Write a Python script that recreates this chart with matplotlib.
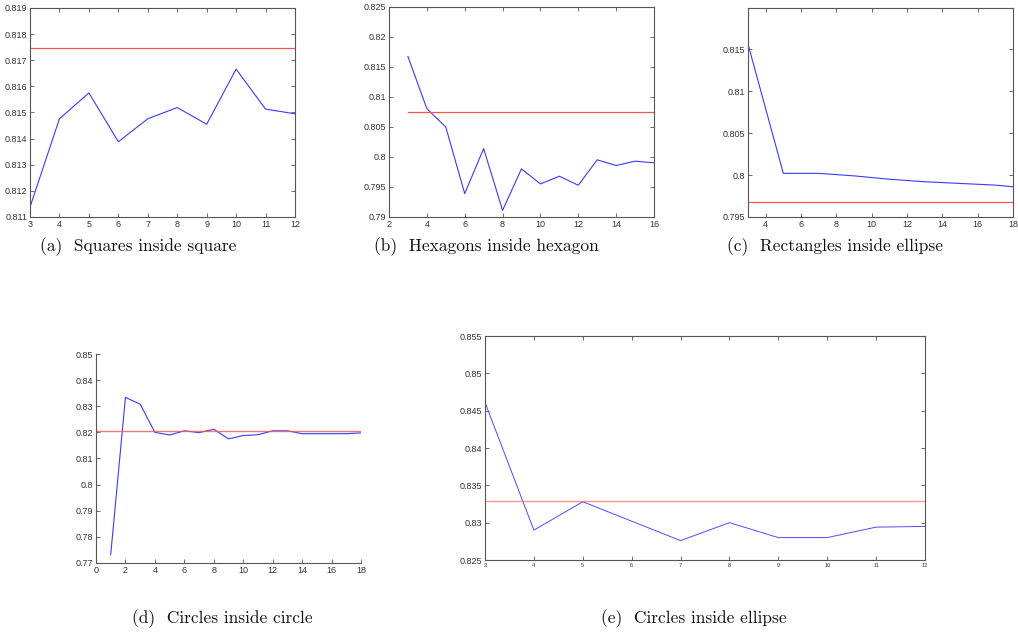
import matplotlib
matplotlib.use("Agg")
import matplotlib.pyplot as plt
from matplotlib.ticker import FuncFormatter, FixedLocator

W, H = 1018, 638

# (a) Squares inside square
a_x = [3, 4, 5, 6, 7, 8, 9, 10, 11, 12]
a_y = [0.81138, 0.81476, 0.81575, 0.81388, 0.81476, 0.81519, 0.81455, 0.81666, 0.81513, 0.81495]
a_ref = 0.81746

# (b) Hexagons inside hexagon
b_x = [3, 4, 5, 6, 7, 8, 9, 10, 11, 12, 13, 14, 15, 16]
b_y = [0.81675, 0.80805, 0.80499, 0.7939, 0.8014, 0.79111, 0.79802, 0.79551, 0.7968, 0.79529,
       0.79953, 0.79858, 0.7993, 0.79903]
b_ref = 0.80755

# (c) Rectangles inside ellipse
c_x = [3, 5, 7, 9, 11, 13, 15, 17, 18]
c_y = [0.8156, 0.8002, 0.8002, 0.7999, 0.7995, 0.7992, 0.7990, 0.7988, 0.7986]
c_ref = 0.79684

# (d) Circles inside circle
d_x = [1, 2, 3, 4, 5, 6, 7, 8, 9, 10, 11, 12, 13, 14, 15, 16, 17, 18]
d_y = [0.7732, 0.8334, 0.8308, 0.8200, 0.8190, 0.8206, 0.8199, 0.8212, 0.8175, 0.8188,
       0.8191, 0.8206, 0.8206, 0.8195, 0.8195, 0.8195, 0.8195, 0.8198]
d_ref = 0.8207

# (e) Circles inside ellipse
e_x = [3, 4, 5, 6, 7, 8, 9, 10, 11, 12]
e_y = [0.8461, 0.8290, 0.8328, 0.8302, 0.8276, 0.8300, 0.8280, 0.8280, 0.8294, 0.8295]
e_ref = 0.83295

captions = ["(a)  Squares inside square", "(b)  Hexagons inside hexagon",
            "(c)  Rectangles inside ellipse", "(d)  Circles inside circle",
            "(e)  Circles inside ellipse"]

BLUE = "#3a3aff"
RED = "#ff5050"
SPINE = "#555555"
TICKC = "#333333"

fig = plt.figure(figsize=(W / 100, H / 100), dpi=100)
fig.patch.set_facecolor("white")


def px_axes(l, r, t, b):
    return fig.add_axes([l / W, 1 - b / H, (r - l) / W, (b - t) / H])


fmt = FuncFormatter(lambda v, p: "{:g}".format(round(v, 6)))


def style(ax, box=True, xfs=6.5, yfs=6.5):
    for s in ax.spines.values():
        s.set_color(SPINE)
        s.set_linewidth(0.8)
    if not box:
        ax.spines["top"].set_visible(False)
        ax.spines["right"].set_visible(False)
    ax.tick_params(direction="in", length=3, width=0.6, color=SPINE,
                   top=box, right=box, pad=2, labelcolor=TICKC)
    ax.tick_params(axis="x", labelsize=xfs)
    ax.tick_params(axis="y", labelsize=yfs)
    for lab in ax.get_xticklabels() + ax.get_yticklabels():
        lab.set_fontfamily("Liberation Sans")
    ax.yaxis.set_major_formatter(fmt)
    ax.xaxis.set_major_formatter(fmt)


# (a)
ax = px_axes(30, 295, 8, 217)
ax.plot(a_x, a_y, color=BLUE, lw=0.8)
ax.axhline(a_ref, color=RED, lw=0.9)
ax.set_xlim(3, 12)
ax.set_ylim(0.811, 0.819)
ax.xaxis.set_major_locator(FixedLocator(list(range(3, 13))))
ax.yaxis.set_major_locator(FixedLocator([0.811 + 0.001 * i for i in range(9)]))
style(ax)

# (b)
ax = px_axes(389, 654, 7, 217)
ax.plot(b_x, b_y, color=BLUE, lw=0.8)
ax.plot([b_x[0], b_x[-1]], [b_ref, b_ref], color=RED, lw=0.9)
ax.set_xlim(2, 16)
ax.set_ylim(0.79, 0.825)
ax.xaxis.set_major_locator(FixedLocator(list(range(2, 17, 2))))
ax.yaxis.set_major_locator(FixedLocator([0.79 + 0.005 * i for i in range(8)]))
style(ax)

# (c)
ax = px_axes(748, 1013, 8, 217)
ax.plot(c_x, c_y, color=BLUE, lw=0.8)
ax.axhline(c_ref, color=RED, lw=0.9)
ax.set_xlim(3, 18)
ax.set_ylim(0.795, 0.8199)
ax.xaxis.set_major_locator(FixedLocator(list(range(4, 19, 2))))
ax.yaxis.set_major_locator(FixedLocator([0.795 + 0.005 * i for i in range(5)]))
style(ax)

# (d)
ax = px_axes(96, 361, 354, 563)
ax.plot(d_x, d_y, color=BLUE, lw=0.8)
ax.axhline(d_ref, color=RED, lw=1.0, alpha=0.8)
ax.set_xlim(0, 18)
ax.set_ylim(0.77, 0.85)
ax.xaxis.set_major_locator(FixedLocator(list(range(0, 19, 2))))
ax.yaxis.set_major_locator(FixedLocator([0.77 + 0.01 * i for i in range(9)]))
style(ax, box=False)

# (e)
ax = px_axes(485, 925, 336, 560)
ax.plot(e_x, e_y, color=BLUE, lw=0.7, alpha=0.9)
ax.axhline(e_ref, color=RED, lw=1.0, alpha=0.6)
ax.set_xlim(3, 12)
ax.set_ylim(0.825, 0.855)
ax.xaxis.set_major_locator(FixedLocator(list(range(3, 13))))
ax.yaxis.set_major_locator(FixedLocator([0.825 + 0.005 * i for i in range(7)]))
style(ax, xfs=4)

# captions
cap_pos = [(138, 247), (486, 247), (835, 247), (222, 619), (694, 619)]
for (cx, cy), txt in zip(cap_pos, captions):
    fig.text(cx / W, 1 - cy / H, txt, ha="center", va="center",
             fontsize=12.5, family="cmr10", color="#111111")

fig.savefig("out.png", dpi=100, facecolor="white")
